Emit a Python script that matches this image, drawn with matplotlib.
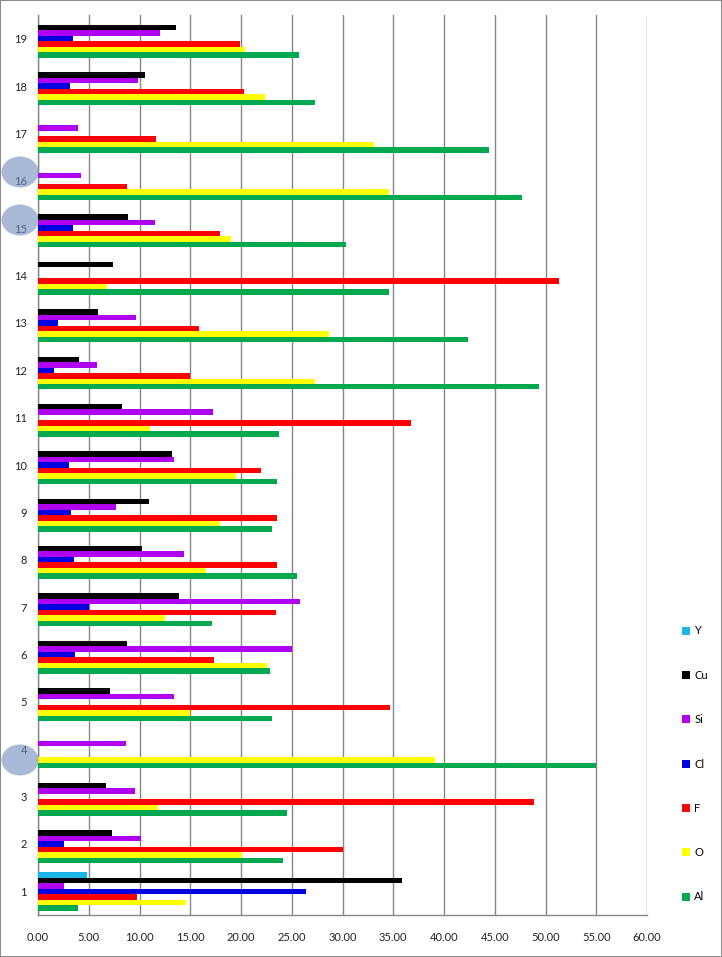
import numpy as np
import matplotlib
matplotlib.use("Agg")
import matplotlib.pyplot as plt
from matplotlib.patches import Patch, Ellipse

plt.rcParams['font.family'] = ['Lato', 'DejaVu Sans']

# Samples 1..19, element content per sample
samples = list(range(1, 20))
elements = ["Y", "Cu", "Si", "Cl", "F", "O", "Al"]

Y  = [4.85, 0, 0, 0, 0, 0, 0, 0, 0, 0, 0, 0, 0, 0, 0, 0, 0, 0, 0]
Cu = [35.9, 7.3, 6.7, 0, 7.1, 8.8, 13.9, 10.2, 10.9, 13.2,
      8.3, 4.0, 5.9, 7.4, 8.9, 0, 0, 10.5, 13.6]
Si = [2.6, 10.1, 9.6, 8.7, 13.4, 25.0, 25.8, 14.4, 7.7, 13.4,
      17.2, 5.8, 9.7, 0, 11.5, 4.2, 3.9, 9.9, 12.0]
Cl = [26.4, 2.6, 0, 0, 0, 3.6, 5.0, 3.5, 3.3, 3.1,
      0, 1.6, 2.0, 0, 3.4, 0, 0, 3.2, 3.4]
F  = [9.8, 30.0, 48.9, 0, 34.7, 17.3, 23.4, 23.5, 23.5, 22.0,
      36.7, 15.0, 15.9, 51.3, 17.9, 8.8, 11.6, 20.3, 19.9]
O  = [14.6, 20.1, 11.8, 39.1, 15.0, 22.6, 12.5, 16.6, 17.9, 19.5,
      11.0, 27.3, 28.7, 6.8, 19.0, 34.6, 33.1, 22.4, 20.4]
Al = [3.9, 24.1, 24.5, 55.0, 23.1, 22.9, 17.1, 25.5, 23.1, 23.5,
      23.7, 49.4, 42.4, 34.6, 30.3, 47.7, 44.4, 27.3, 25.7]

series = [Y, Cu, Si, Cl, F, O, Al]
colors = ["#1CB5E8", "#000000", "#B000F0", "#0000E0", "#FF0000", "#FFFF00", "#00A850"]

W, H = 722, 957
fig = plt.figure(figsize=(W / 100, H / 100), dpi=100, linewidth=1.2, edgecolor="#8a8a8a")
ax = fig.add_axes([38 / W, 1 - 915 / H, (647 - 38) / W, (915 - 15) / H])

y = np.array(samples)
h = 0.116
for i, (vals, c) in enumerate(zip(series, colors)):
    off = (3 - i) * h  # Y on top, Al at the bottom of each group
    ax.barh(y + off, vals, height=h, color=c, zorder=3)

ax.set_xlim(0, 60)
ax.set_ylim(0.5, 19.5)
ax.set_xticks(np.arange(0, 61, 5))
ax.set_xticklabels([f"{v:.2f}" for v in np.arange(0, 61, 5)])
ax.set_yticks(y)
ax.set_yticklabels([str(s) for s in samples])
ax.tick_params(axis="both", length=0, labelsize=8, colors="#222222")
ax.tick_params(axis="x", pad=12)
ax.tick_params(axis="y", pad=8)
ax.grid(axis="x", color="#868686", linewidth=1.0, zorder=0)
for s in ["top", "right"]:
    ax.spines[s].set_visible(False)
for s in ["left", "bottom"]:
    ax.spines[s].set_color("#868686")
    ax.spines[s].set_linewidth(1.0)

handles = [Patch(facecolor=c, label=e) for e, c in zip(elements, colors)]
fig.legend(handles=handles, loc="center left", bbox_to_anchor=(672 / W, 1 - 764 / H),
           frameon=False, fontsize=8, handlelength=0.7, handleheight=0.7,
           handletextpad=0.4, labelspacing=3.0)

# highlighted samples (blue ovals over the axis labels)
for cx, cy in [(20, 172), (20, 220), (20, 760)]:
    fig.patches.append(Ellipse((cx / W, 1 - cy / H), 37 / W, 31 / H,
                               transform=fig.transFigure, facecolor="#6E8CBB",
                               alpha=0.6, edgecolor="none", zorder=10))

fig.savefig("out.png", dpi=100)
